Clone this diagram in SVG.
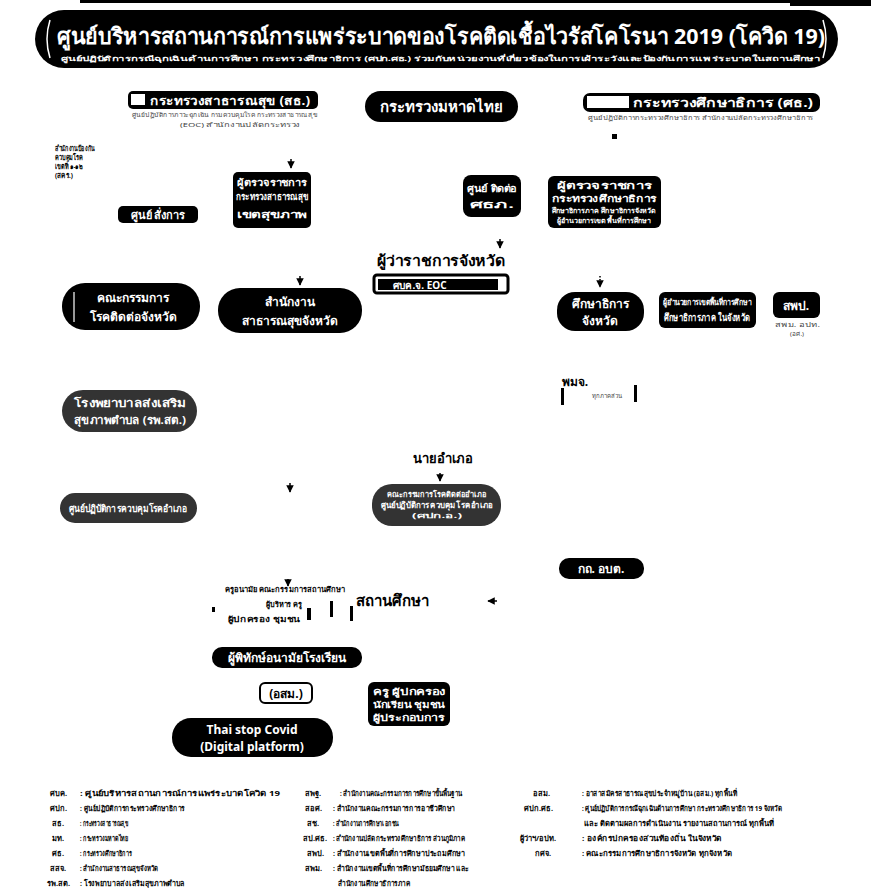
<svg xmlns="http://www.w3.org/2000/svg" width="871" height="893" viewBox="0 0 871 893">
<style>
  text { font-family: "Noto Sans", "DejaVu Sans", sans-serif; }
  .box { fill: #000; }
  .grey { fill: #333; }
  .wt { fill: #fff; font-weight: bold; text-anchor: middle; }
  .bt { fill: #000; font-weight: bold; text-anchor: middle; }
  .tiny { fill: #444; font-size: 6px; }
  .lg { fill: #000; font-size: 7.5px; font-weight: bold; }
  .conn { stroke: #000; stroke-width: 1.5; fill: none; }
</style>
<defs>
  <marker id="ah" viewBox="0 0 10 10" refX="9" refY="5" markerWidth="5" markerHeight="5" orient="auto">
    <path d="M0,0 L10,5 L0,10 z" fill="#000"/>
  </marker>
</defs>
<rect width="871" height="893" fill="#fff"/>
<line x1="80" y1="1.5" x2="871" y2="1.5" stroke="#000" stroke-width="3"/>
<rect x="790" y="0" width="81" height="6" fill="#000"/>

<g id="title">
  <rect x="35" y="10" width="803" height="58" rx="29" class="box"/>
  <path d="M50,20 Q44,39 50,58" fill="none" stroke="#fff" stroke-width="1.5"/>
  <path d="M823,20 Q829,39 823,58" fill="none" stroke="#fff" stroke-width="1.5"/>
  <text x="441" y="44" class="wt" font-size="22" textLength="768" lengthAdjust="spacingAndGlyphs">ศูนย์บริหารสถานการณ์การแพร่ระบาดของโรคติดเชื้อไวรัสโคโรนา 2019 (โควิด 19)</text>
  <text x="441" y="61" class="wt" font-size="7" textLength="760" lengthAdjust="spacingAndGlyphs">ศูนย์ปฏิบัติการกรณีฉุกเฉินด้านการศึกษา กระทรวงศึกษาธิการ (ศปก.ศธ.) ร่วมกับหน่วยงานที่เกี่ยวข้องในการเฝ้าระวังและป้องกันการแพร่ระบาดในสถานศึกษา</text>
</g>

<g id="moph">
  <rect x="128" y="91" width="190" height="18" rx="5" class="box"/>
  <rect x="131" y="94" width="14" height="11" fill="#fff"/>
  <text x="230" y="105" class="wt" font-size="12.5" textLength="160" lengthAdjust="spacingAndGlyphs">กระทรวงสาธารณสุข (สธ.)</text>
  <text x="132" y="117" class="tiny" textLength="185" lengthAdjust="spacingAndGlyphs">ศูนย์ปฏิบัติการภาวะฉุกเฉิน กรมควบคุมโรค   กระทรวงสาธารณสุข</text>
  <text x="180" y="127" class="tiny" textLength="120" lengthAdjust="spacingAndGlyphs">(EOC)  สำนักงานปลัดกระทรวง</text>
</g>

<g id="moi">
  <rect x="365" y="91" width="153" height="31" rx="15.5" class="box"/>
  <text x="441" y="112" class="wt" font-size="15">กระทรวงมหาดไทย</text>
</g>

<g id="moe">
  <rect x="583" y="93" width="237" height="19" rx="7" class="box"/>
  <rect x="587" y="96" width="42" height="12" fill="#fff"/>
  <text x="723" y="107" class="wt" font-size="12.5" textLength="180" lengthAdjust="spacingAndGlyphs">กระทรวงศึกษาธิการ (ศธ.)</text>
  <text x="588" y="120" class="tiny" textLength="225" lengthAdjust="spacingAndGlyphs">ศูนย์ปฏิบัติการกระทรวงศึกษาธิการ   สำนักงานปลัดกระทรวงศึกษาธิการ</text>
  <rect x="612" y="134" width="5" height="5" fill="#000"/>
</g>

<g id="note-left">
  <text x="55" y="151" class="lg" font-size="5" textLength="40" lengthAdjust="spacingAndGlyphs">สำนักงานป้องกัน</text>
  <text x="55" y="160" class="lg" font-size="5" textLength="28" lengthAdjust="spacingAndGlyphs">ควบคุมโรค</text>
  <text x="55" y="169" class="lg" font-size="5" textLength="28" lengthAdjust="spacingAndGlyphs">เขตที่ ๑-๑๒</text>
  <text x="55" y="178" class="lg" font-size="5" textLength="18" lengthAdjust="spacingAndGlyphs">(สคร.)</text>
</g>

<g id="center-cmd">
  <rect x="118" y="206" width="80" height="17" rx="5" class="box"/>
  <text x="158" y="219" class="wt" font-size="11">ศูนย์ สั่งการ</text>
</g>

<g id="moph-inspector">
  <rect x="233" y="172" width="78" height="56" rx="5" class="box"/>
  <text x="272" y="186" class="wt" font-size="9.5" textLength="70" lengthAdjust="spacingAndGlyphs">ผู้ตรวจราชการ</text>
  <text x="272" y="200" class="wt" font-size="9.5" textLength="72" lengthAdjust="spacingAndGlyphs">กระทรวงสาธารณสุข</text>
  <text x="272" y="218" class="wt" font-size="9.5" textLength="70" lengthAdjust="spacingAndGlyphs">เขตสุขภาพ</text>
</g>

<g id="region-center">
  <rect x="463" y="175" width="58" height="42" rx="8" class="box"/>
  <text x="492" y="192" class="wt" font-size="10" textLength="50" lengthAdjust="spacingAndGlyphs">ศูนย์ ติดต่อ</text>
  <text x="492" y="208" class="wt" font-size="10" textLength="44" lengthAdjust="spacingAndGlyphs">ศธภ.</text>
</g>

<g id="moe-inspector">
  <rect x="548" y="176" width="113" height="52" rx="6" class="box"/>
  <text x="604" y="189" class="wt" font-size="9.5" textLength="95" lengthAdjust="spacingAndGlyphs">ผู้ตรวจราชการ</text>
  <text x="604" y="202" class="wt" font-size="9.5" textLength="105" lengthAdjust="spacingAndGlyphs">กระทรวงศึกษาธิการ</text>
  <text x="604" y="213" class="wt" font-size="7" textLength="105" lengthAdjust="spacingAndGlyphs">ศึกษาธิการภาค ศึกษาธิการจังหวัด</text>
  <text x="604" y="223" class="wt" font-size="7" textLength="95" lengthAdjust="spacingAndGlyphs">ผู้อำนวยการเขตพื้นที่การศึกษา</text>
</g>

<g id="governor">
  <text x="441" y="266" class="bt" font-size="14.5" textLength="128" lengthAdjust="spacingAndGlyphs">ผู้ว่าราชการจังหวัด</text>
  <rect x="374" y="275" width="134" height="18" rx="3" fill="#fff" stroke="#000" stroke-width="3"/>
  <rect x="378" y="279" width="120" height="11" class="box"/>
  <text x="420" y="288.5" class="wt" font-size="10">ศบค.จ. EOC</text>
</g>

<g id="prov-committee">
  <rect x="62" y="283" width="138" height="47" rx="23" class="box"/>
  <line x1="74" y1="292" x2="74" y2="322" stroke="#fff" stroke-width="1.2"/>
  <text x="133" y="302" class="wt" font-size="12">คณะกรรมการ</text>
  <text x="133" y="321" class="wt" font-size="12">โรคติดต่อจังหวัด</text>
</g>

<g id="pho">
  <rect x="218" y="288" width="144" height="45" rx="22" class="box"/>
  <text x="290" y="306" class="wt" font-size="12">สำนักงาน</text>
  <text x="290" y="325" class="wt" font-size="12">สาธารณสุขจังหวัด</text>
</g>

<g id="peo">
  <rect x="557" y="292" width="87" height="39" rx="18" class="box"/>
  <text x="600" y="308" class="wt" font-size="12">ศึกษาธิการ</text>
  <text x="600" y="325" class="wt" font-size="12">จังหวัด</text>
</g>

<g id="esa">
  <rect x="659" y="292" width="97" height="36" rx="6" class="box"/>
  <text x="707" y="305" class="wt" font-size="8" textLength="88" lengthAdjust="spacingAndGlyphs">ผู้อำนวยการเขตพื้นที่การศึกษา</text>
  <text x="707" y="321" class="wt" font-size="10" textLength="86" lengthAdjust="spacingAndGlyphs">ศึกษาธิการภาค ในจังหวัด</text>
</g>

<g id="spp">
  <rect x="773" y="292" width="47" height="26" rx="6" class="box"/>
  <text x="796" y="310" class="wt" font-size="12">สพป.</text>
  <text x="775" y="327" class="tiny" textLength="45" lengthAdjust="spacingAndGlyphs">สพม. อปท.</text>
  <text x="790" y="336" class="tiny" textLength="14" lengthAdjust="spacingAndGlyphs">(อศ.)</text>
</g>

<g id="pmj">
  <text x="575" y="386" class="bt" font-size="12" text-anchor="start">พมจ.</text>
  <text x="592" y="398" class="tiny">ทุกภาคส่วน</text>
  <rect x="561" y="388" width="3" height="17" fill="#000"/>
  <rect x="634" y="385" width="3" height="17" fill="#000"/>
</g>

<g id="rph">
  <rect x="62" y="390" width="135" height="42" rx="21" class="grey"/>
  <text x="130" y="407" class="wt" font-size="11" textLength="112" lengthAdjust="spacingAndGlyphs">โรงพยาบาลส่งเสริม</text>
  <text x="130" y="424" class="wt" font-size="11" textLength="112" lengthAdjust="spacingAndGlyphs">สุขภาพตำบล (รพ.สต.)</text>
</g>

<g id="district-chief">
  <text x="443" y="463" class="bt" font-size="13">นายอำเภอ</text>
</g>

<g id="district-ops">
  <rect x="60" y="493" width="137" height="30" rx="15" class="grey"/>
  <text x="128" y="512" class="wt" font-size="10" textLength="118" lengthAdjust="spacingAndGlyphs">ศูนย์ปฏิบัติการควบคุมโรคอำเภอ</text>
</g>

<g id="district-center">
  <rect x="372" y="484" width="129" height="42" rx="20" class="grey"/>
  <text x="437" y="497" class="wt" font-size="7.5" textLength="100" lengthAdjust="spacingAndGlyphs">คณะกรรมการโรคติดต่ออำเภอ</text>
  <text x="437" y="508" class="wt" font-size="8.5" textLength="112" lengthAdjust="spacingAndGlyphs">ศูนย์ปฏิบัติการควบคุมโรคอำเภอ</text>
  <text x="437" y="518" class="wt" font-size="6.5" textLength="50" lengthAdjust="spacingAndGlyphs">(ศปก.อ.)</text>
</g>

<g id="local-gov">
  <rect x="559" y="558" width="85" height="21" rx="10" class="box"/>
  <text x="601" y="573" class="wt" font-size="12">กถ. อบต.</text>
</g>

<g id="school-network">
  <text x="225" y="592" class="lg" font-size="6" textLength="120" lengthAdjust="spacingAndGlyphs">ครูอนามัย  คณะกรรมการสถานศึกษา</text>
  <text x="266" y="607" class="lg" font-size="5.5" textLength="36" lengthAdjust="spacingAndGlyphs">ผู้บริหาร ครู</text>
  <text x="228" y="622" class="lg" font-size="6" textLength="72" lengthAdjust="spacingAndGlyphs">ผู้ปกครอง ชุมชน</text>
  <rect x="212" y="607" width="3" height="5" fill="#000"/>
  <rect x="307" y="608" width="4" height="12" fill="#000"/>
  <rect x="330" y="601" width="3" height="16" fill="#000"/>
  <rect x="350" y="606" width="3" height="15" fill="#000"/>
</g>

<g id="school">
  <text x="392" y="606" class="bt" font-size="15" text-anchor="start">สถานศึกษา</text>
</g>

<g id="guardian">
  <rect x="212" y="647" width="150" height="21" rx="10" class="box"/>
  <text x="287" y="662" class="wt" font-size="12">ผู้พิทักษ์อนามัยโรงเรียน</text>
</g>

<g id="vhv">
  <rect x="260" y="683" width="52" height="20" rx="5" fill="#fff" stroke="#000" stroke-width="2"/>
  <text x="286" y="698" class="bt" font-size="12">(อสม.)</text>
</g>

<g id="stakeholders">
  <rect x="368" y="682" width="82" height="44" rx="6" class="box"/>
  <text x="409" y="695" class="wt" font-size="9" textLength="72" lengthAdjust="spacingAndGlyphs">ครู ผู้ปกครอง</text>
  <text x="409" y="708" class="wt" font-size="9" textLength="72" lengthAdjust="spacingAndGlyphs">นักเรียน ชุมชน</text>
  <text x="409" y="721" class="wt" font-size="9" textLength="72" lengthAdjust="spacingAndGlyphs">ผู้ประกอบการ</text>
</g>

<g id="thai-stop-covid">
  <rect x="172" y="718" width="161" height="39" rx="19" class="box"/>
  <text x="252" y="734" class="wt" font-size="12">Thai stop Covid</text>
  <text x="252" y="751" class="wt" font-size="12">(Digital platform)</text>
</g>

<g id="connectors">
  <line x1="291" y1="159" x2="291" y2="168" class="conn" marker-end="url(#ah)"/>
  <line x1="500" y1="239" x2="500" y2="248" class="conn" marker-end="url(#ah)"/>
  <line x1="300" y1="276" x2="300" y2="285" class="conn" marker-end="url(#ah)"/>
  <line x1="600" y1="276" x2="600" y2="287" class="conn" stroke-dasharray="1.5,1.5" marker-end="url(#ah)"/>
  <line x1="290" y1="483" x2="290" y2="492" class="conn" marker-end="url(#ah)"/>
  <line x1="440" y1="473" x2="440" y2="481" class="conn" marker-end="url(#ah)"/>
  <line x1="288" y1="579" x2="288" y2="586" class="conn" marker-end="url(#ah)"/>
  <line x1="497" y1="601" x2="488" y2="601" class="conn" marker-end="url(#ah)"/>
</g>

<g id="legend">
  <text x="50" y="796" class="lg">ศบค.</text><text x="80" y="796" class="lg" font-size="6.5" textLength="200" lengthAdjust="spacingAndGlyphs">: ศูนย์บริหารสถานการณ์การแพร่ระบาดโควิด 19</text>
  <text x="50" y="811" class="lg">ศปก.</text><text x="80" y="811" class="lg" textLength="105" lengthAdjust="spacingAndGlyphs">: ศูนย์ปฏิบัติการกระทรวงศึกษาธิการ</text>
  <text x="52" y="826" class="lg">สธ.</text><text x="80" y="826" class="lg" textLength="48" lengthAdjust="spacingAndGlyphs">: กระทรวงสาธารณสุข</text>
  <text x="52" y="841" class="lg">มท.</text><text x="80" y="841" class="lg" textLength="48" lengthAdjust="spacingAndGlyphs">: กระทรวงมหาดไทย</text>
  <text x="52" y="856" class="lg">ศธ.</text><text x="80" y="856" class="lg" textLength="52" lengthAdjust="spacingAndGlyphs">: กระทรวงศึกษาธิการ</text>
  <text x="50" y="871" class="lg">สสจ.</text><text x="80" y="871" class="lg" textLength="78" lengthAdjust="spacingAndGlyphs">: สำนักงานสาธารณสุขจังหวัด</text>
  <text x="47" y="886" class="lg" font-size="7">รพ.สต.</text><text x="80" y="886" class="lg" textLength="105" lengthAdjust="spacingAndGlyphs">: โรงพยาบาลส่งเสริมสุขภาพตำบล</text>

  <text x="305" y="796" class="lg" font-size="7">สพฐ.</text><text x="340" y="796" class="lg" font-size="6.5" textLength="122" lengthAdjust="spacingAndGlyphs">: สำนักงานคณะกรรมการการศึกษาขั้นพื้นฐาน</text>
  <text x="305" y="811" class="lg">สอศ.</text><text x="333" y="811" class="lg" textLength="122" lengthAdjust="spacingAndGlyphs">: สำนักงานคณะกรรมการการอาชีวศึกษา</text>
  <text x="307" y="826" class="lg">สช.</text><text x="333" y="826" class="lg" textLength="66" lengthAdjust="spacingAndGlyphs">: สำนักงานการศึกษาเอกชน</text>
  <text x="303" y="841" class="lg" font-size="7">สป.ศธ.</text><text x="333" y="841" class="lg" textLength="132" lengthAdjust="spacingAndGlyphs">: สำนักงานปลัดกระทรวงศึกษาธิการ ส่วนภูมิภาค</text>
  <text x="307" y="856" class="lg">สพป.</text><text x="333" y="856" class="lg" textLength="132" lengthAdjust="spacingAndGlyphs">: สำนักงานเขตพื้นที่การศึกษาประถมศึกษา</text>
  <text x="305" y="871" class="lg">สพม.</text><text x="333" y="871" class="lg" textLength="136" lengthAdjust="spacingAndGlyphs">: สำนักงานเขตพื้นที่การศึกษามัธยมศึกษา และ</text>
  <text x="338" y="886" class="lg" textLength="72" lengthAdjust="spacingAndGlyphs">สำนักงานศึกษาธิการภาค</text>

  <text x="533" y="796" class="lg">อสม.</text><text x="582" y="796" class="lg" textLength="155" lengthAdjust="spacingAndGlyphs">: อาสาสมัครสาธารณสุขประจำหมู่บ้าน (อสม.) ทุกพื้นที่</text>
  <text x="524" y="811" class="lg" font-size="7">ศปก.ศธ.</text><text x="582" y="811" class="lg" textLength="200" lengthAdjust="spacingAndGlyphs">: ศูนย์ปฏิบัติการกรณีฉุกเฉินด้านการศึกษา กระทรวงศึกษาธิการ 19 จังหวัด</text>
  <text x="584" y="826" class="lg" textLength="190" lengthAdjust="spacingAndGlyphs">และ ติดตามผลการดำเนินงาน รายงานสถานการณ์ ทุกพื้นที่</text>
  <text x="520" y="841" class="lg" font-size="7">ผู้ว่าฯ/อปท.</text><text x="582" y="841" class="lg" textLength="140" lengthAdjust="spacingAndGlyphs">: องค์กรปกครองส่วนท้องถิ่น ในจังหวัด</text>
  <text x="535" y="856" class="lg">กศจ.</text><text x="582" y="856" class="lg" textLength="150" lengthAdjust="spacingAndGlyphs">: คณะกรรมการศึกษาธิการจังหวัด ทุกจังหวัด</text>
</g>
</svg>
